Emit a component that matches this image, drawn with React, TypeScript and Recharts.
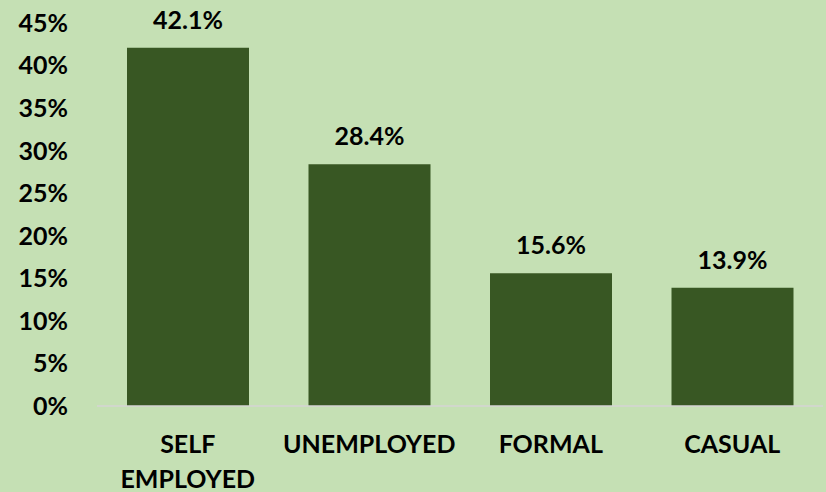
import React from "react";
import { BarChart, Bar, XAxis, YAxis, LabelList } from "recharts";

const categories = ["SELF EMPLOYED", "UNEMPLOYED", "FORMAL", "CASUAL"];
const shares = [42.1, 28.4, 15.6, 13.9];
const yTicks = [0, 5, 10, 15, 20, 25, 30, 35, 40, 45];

const data = categories.map((name, i) => ({ name, share: shares[i] }));

const FONT = "Lato, 'Open Sans', sans-serif";
const SIZE = 25;

// category labels wrap one word per line, like the original
function CategoryTick(props: any) {
  const { x, y, payload } = props;
  const words = String(payload.value).split(" ");
  return (
    <text
      x={x}
      y={y + 47}
      textAnchor="middle"
      fontFamily={FONT}
      fontWeight={700}
      fontSize={SIZE}
      fill="#000"
    >
      {words.map((w, i) => (
        <tspan key={w} x={x} dy={i === 0 ? 0 : 35}>
          {w}
        </tspan>
      ))}
    </text>
  );
}

export default function App() {
  return (
    <div style={{ position: "fixed", inset: 0, background: "#C5E0B4" }}>
      <BarChart
        width={826}
        height={492}
        data={data}
        margin={{ top: 23, right: 3, bottom: 0, left: 0 }}
      >
        <XAxis
          dataKey="name"
          tick={<CategoryTick />}
          tickLine={false}
          tickSize={0}
          tickMargin={0}
          axisLine={{ stroke: "#d4d4d4", strokeWidth: 1.5 }}
          interval={0}
          height={86}
        />
        <YAxis
          domain={[0, 45]}
          ticks={yTicks}
          interval={0}
          width={97}
          axisLine={false}
          tickLine={false}
          tickSize={0}
          tickMargin={29}
          tickFormatter={(v: number) => `${v}%`}
          tick={{ fontFamily: FONT, fontWeight: 700, fontSize: SIZE, fill: "#000" }}
        />
        <Bar dataKey="share" fill="#385723" barSize={122} isAnimationActive={false}>
          <LabelList
            dataKey="share"
            position="top"
            offset={19}
            formatter={(v: any) => `${Number(v).toFixed(1)}%`}
            style={{ fontFamily: FONT, fontWeight: 700, fontSize: SIZE, fill: "#000" }}
          />
        </Bar>
      </BarChart>
    </div>
  );
}
